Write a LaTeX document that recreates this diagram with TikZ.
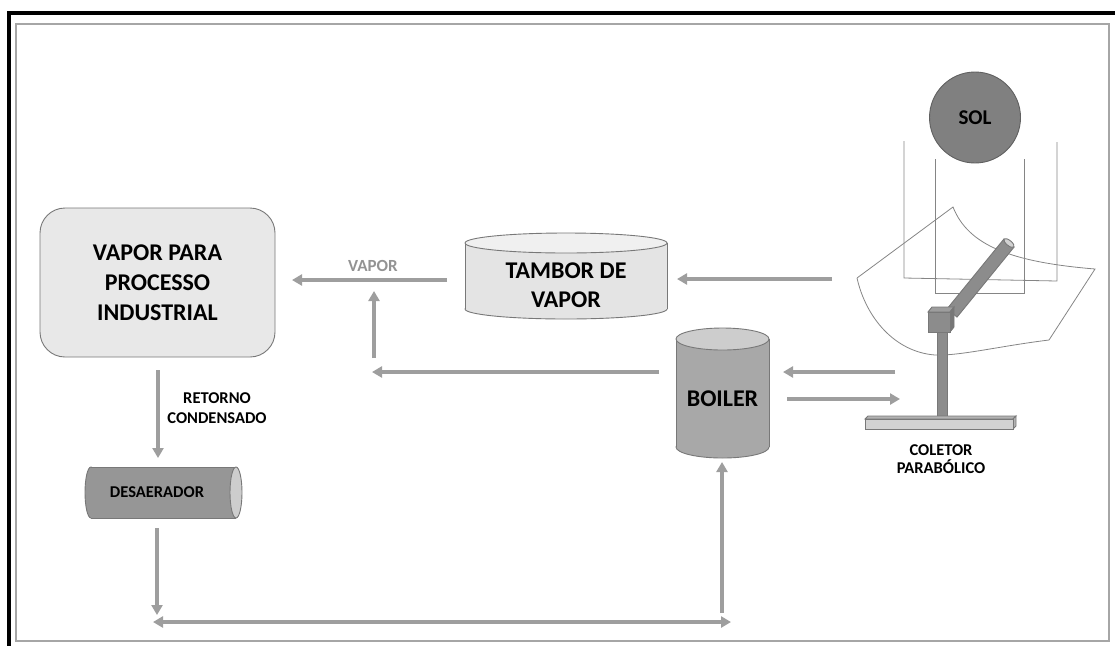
\documentclass[tikz,border=0pt]{standalone}
\usepackage{fontspec}
\setmainfont{Carlito}
\usetikzlibrary{arrows.meta}
\definecolor{flowgray}{RGB}{158,158,158}
\definecolor{edgegray}{RGB}{120,120,120}
\definecolor{boxfill}{RGB}{232,232,232}
\definecolor{drumfill}{RGB}{228,228,228}
\definecolor{drumtop}{RGB}{240,240,240}
\definecolor{boilfill}{RGB}{168,168,168}
\definecolor{boiltop}{RGB}{205,205,205}
\definecolor{deafill}{RGB}{150,150,150}
\definecolor{deaend}{RGB}{205,205,205}
\definecolor{sunfill}{RGB}{128,128,128}
\definecolor{partfill}{RGB}{140,140,140}
\definecolor{basefill}{RGB}{210,210,210}
\begin{document}
\begin{tikzpicture}[x=1pt,y=-1pt,
  flow/.style={draw=flowgray, line width=3.6pt, -{Triangle[length=10pt,width=11pt]}},
  flowtwo/.style={draw=flowgray, line width=3.6pt, {Triangle[length=10pt,width=11pt]}-{Triangle[length=10pt,width=11pt]}},
  bigtxt/.style={font=\bfseries\fontsize{24}{30}\selectfont, align=center, text=black},
  midtxt/.style={font=\bfseries\fontsize{16.5}{20}\selectfont, align=center, text=black},
  smalltxt/.style={font=\bfseries\fontsize{16.5}{18}\selectfont, align=center, text=black},
  outline/.style={draw=edgegray, line width=0.9pt},
  thinline/.style={draw=edgegray!90, line width=0.8pt}]
\useasboundingbox (0,0) rectangle (1115,646);

% outer frame
\fill[black] (7,11) rectangle (1115,15);
\fill[black] (7,11) rectangle (11,646);
\draw[gray!70, line width=1.3pt] (16,24) rectangle (1109,641);

% process box
\node[bigtxt, draw=edgegray, line width=0.9pt, fill=boxfill, rounded corners=25pt,
      minimum width=235pt, minimum height=149pt] (proc) at (157.5,282.5)
      {VAPOR PARA\\PROCESSO\\INDUSTRIAL};

% steam drum (short upright cylinder)
\draw[outline, fill=drumfill] (566,309) ellipse[x radius=101, y radius=10];
\fill[drumfill] (465,243) rectangle (667,309);
\draw[outline] (465,243) -- (465,309) (667,243) -- (667,309);
\draw[outline, fill=drumtop] (566,243) ellipse[x radius=101, y radius=10];
\node[bigtxt, font=\bfseries\fontsize{24}{29}\selectfont] (drum) at (566,285) {TAMBOR DE\\VAPOR};

% boiler
\draw[outline, fill=boilfill] (722.5,447) ellipse[x radius=46.5, y radius=11];
\fill[boilfill] (676,339) rectangle (769,447);
\draw[outline] (676,339) -- (676,447) (769,339) -- (769,447);
\draw[outline, fill=boiltop] (722.5,339) ellipse[x radius=46.5, y radius=11];
\node[bigtxt] (boiler) at (722.5,399) {BOILER};

% deaerator
\draw[outline, fill=deafill] (91,492.5) ellipse[x radius=6, y radius=25.5];
\fill[deafill] (91,467) rectangle (236,518);
\draw[outline] (91,467) -- (236,467) (91,518) -- (236,518);
\draw[outline, fill=deaend] (236,492.5) ellipse[x radius=6, y radius=25.5];
\node[smalltxt] (dea) at (157,492) {DESAERADOR};

% sun
\node[circle, draw=edgegray!80!black, line width=0.9pt, fill=sunfill, minimum size=91pt,
      font=\bfseries\fontsize{21}{24}\selectfont, text=black] (sun) at (975,117.5) {SOL};

% parabolic trough
\draw[thinline] (857,278) -- (953,207)
  .. controls (968,245) and (1010,262) .. (1095,269)
  -- (1049,340)
  .. controls (1000,346) and (960,356) .. (935,355)
  .. controls (895,352) and (866,318) .. (857,278);

% incoming rays
\draw[thinline] (904,141) -- (904,278) -- (1057,281) -- (1057,142);
\draw[thinline] (935,159) -- (935,293) -- (1024,293) -- (1024,159);

% receiver tube
\draw[outline, fill=partfill] (947,308.9) -- (957,317.1) -- (1014,247.1) -- (1004,238.9) -- cycle;
\draw[outline, fill=basefill, rotate around={140.8:(1009,243)}] (1009,243) ellipse[x radius=6.3, y radius=2.6];

% mount: cube, post, base plate
\draw[outline, fill=partfill] (937,332) rectangle (947,418);
\draw[outline, fill=partfill!85!white] (928,312) -- (932,307) -- (954,307) -- (950,312) -- cycle;
\draw[outline, fill=partfill!85!black] (950,312) -- (954,307) -- (954,327) -- (950,332) -- cycle;
\draw[outline, fill=partfill] (928,312) rectangle (950,332);
\draw[outline, fill=basefill!85!black] (865,419) -- (868,416) -- (1016,416) -- (1013,419) -- cycle;
\draw[outline, fill=basefill!85!black] (1013,419) -- (1016,416) -- (1016,426) -- (1013,429) -- cycle;
\draw[outline, fill=basefill] (865,419) rectangle (1013,429);
\node[smalltxt] (coll) at (941,459) {COLETOR\\PARABÓLICO};

% connector end points
\coordinate (drumW) at (447,280);
\coordinate (procE) at (292,280);
\coordinate (teeUp) at (374,358);
\coordinate (teeTop) at (374,291);
\coordinate (boilW) at (659,372);
\coordinate (teeIn) at (372,372);
\coordinate (collOut) at (832,279);
\coordinate (drumE) at (677,279);
\coordinate (collRet) at (895,372);
\coordinate (boilE) at (783,372);
\coordinate (boilOut) at (787,399);
\coordinate (collIn) at (900,399);
\coordinate (procS) at (158,370);
\coordinate (deaN) at (158,458);
\coordinate (deaS) at (157,528);
\coordinate (loopW) at (157,615);
\coordinate (lineW) at (153,622);
\coordinate (lineE) at (731,622);
\coordinate (feedUp) at (722,613);
\coordinate (boilS) at (722,462);

% flows
\draw[flow] (drumW) -- (procE);
\node[font=\bfseries\fontsize{17}{18}\selectfont, text=gray!85] (vaplbl) at (373,266) {VAPOR};
\draw[flow] (teeUp) -- (teeTop);
\draw[flow] (boilW) -- (teeIn);
\draw[flow] (collOut) -- (drumE);
\draw[flow] (collRet) -- (boilE);
\draw[flow] (boilOut) -- (collIn);
\draw[flow] (procS) -- (deaN);
\node[midtxt] (retlbl) at (217,408) {RETORNO\\CONDENSADO};
\draw[flow] (deaS) -- (loopW);
\draw[flowtwo] (lineW) -- (lineE);
\draw[flow] (feedUp) -- (boilS);
\end{tikzpicture}
\end{document}
